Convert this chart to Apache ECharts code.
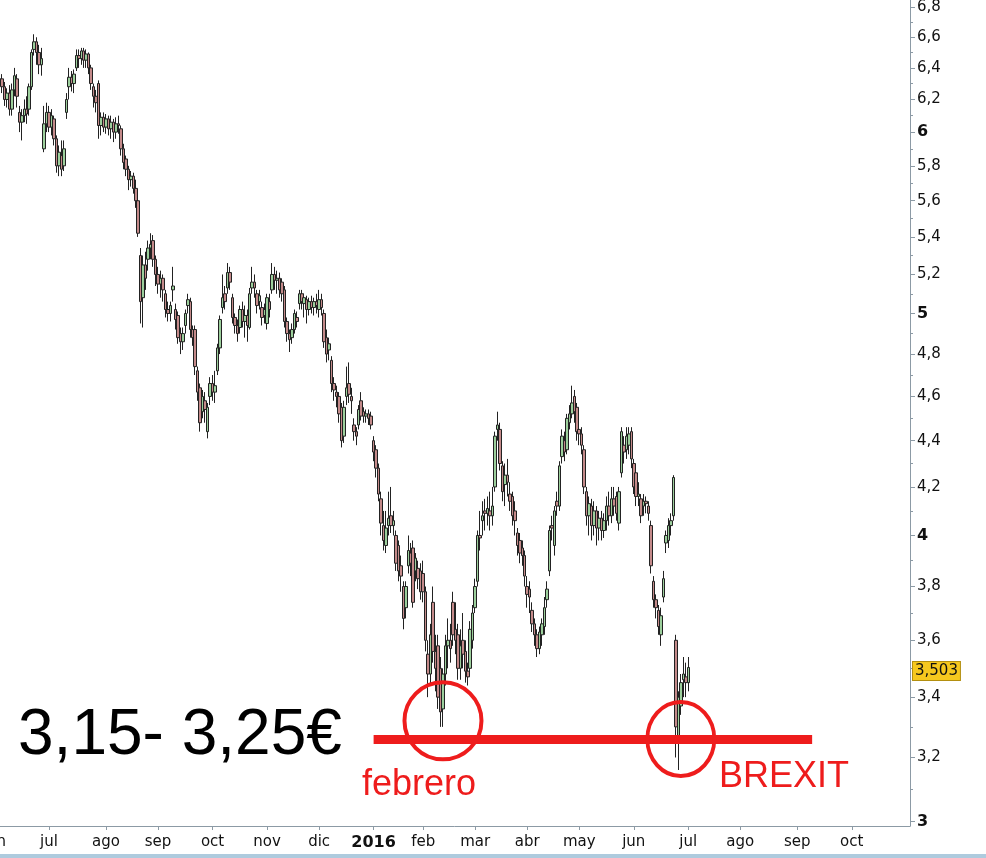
<!DOCTYPE html>
<html>
<head>
<meta charset="utf-8">
<script src="https://cdn.jsdelivr.net/npm/echarts@6/dist/echarts.min.js"></script>
<style>
html,body{margin:0;padding:0;background:#fff;}
#chart{width:986px;height:858px;}
</style>
</head>
<body>
<div id="chart"></div>
<script>
// ---- data (daily candles, first trading day 2015-06-01) ----
const startDate = '2015-06-01';
const endDate = '2016-11-03';
const holidays = ['2015-12-25', '2016-01-01', '2016-03-25', '2016-03-28'];
const monthLabels = ['jun','jul','ago','sep','oct','nov','dic','2016','feb','mar','abr','may','jun','jul','ago','sep','oct'];
const yLabelValues = [3,3.2,3.4,3.6,3.8,4,4.2,4.4,4.6,4.8,5,5.2,5.4,5.6,5.8,6,6.2,6.4,6.6,6.8];
const yMinorValues = [3.1,3.3,3.5,3.7,3.9,4.1,4.3,4.5,4.7,4.9,5.1,5.3,5.5,5.7,5.9,6.1,6.3,6.5,6.7];
const lastPrice = 3.503;

const opens = [
6.40,6.35, 6.30,6.33,6.28,6.20,6.24,6.14,6.26,6.33,6.12,6.06,6.10,6.14,6.14,6.28,6.52,6.57,6.50,6.42,5.90,6.05,
6.12,6.03,6.08,5.96,5.80,5.86,5.80,6.12,6.28,6.34,6.30,6.40,6.48,6.46,6.51,6.45,6.49,6.40,6.28,6.22,6.30,6.04,6.09,
6.03,6.08,6.02,6.06,6.00,6.05,6.02,5.90,5.84,5.78,5.72,5.74,5.67,5.60,5.30,5.08,5.25,5.28,5.34,5.38,5.28,
5.20,5.15,5.18,5.10,5.02,5.00,5.12,5.02,4.99,4.90,4.86,4.94,5.04,5.06,4.92,4.92,4.72,4.64,4.53,4.58,4.44,4.60,
4.66,4.62,4.72,4.83,5.03,5.10,5.13,5.21,5.08,4.98,4.94,4.93,5.02,4.96,4.99,4.93,5.13,5.16,5.10,5.06,5.03,4.99,
4.95,5.06,5.12,5.20,5.17,5.18,5.16,5.12,4.96,4.90,4.88,4.92,4.98,5.05,5.10,5.05,5.07,5.02,5.06,5.03,5.06,
5.02,5.07,5.00,4.88,4.82,4.77,4.66,4.62,4.60,4.55,4.42,4.60,4.66,4.60,4.47,4.44,4.47,4.58,4.53,4.51,4.52,4.51,
4.40,4.36,4.28,4.15,4.04,3.96,4.04,4.08,4.04,4.00,3.96,3.88,3.80,3.72,3.88,3.93,3.95,3.86,3.87,3.86,
3.85,3.78,3.55,3.48,3.74,3.56,3.58,3.50,3.36,3.48,3.58,3.60,3.74,3.64,3.62,3.50,3.60,3.56,3.49,3.50,3.60,
3.72,3.82,4.00,4.06,4.10,4.09,4.10,4.08,4.20,4.45,4.45,4.29,4.21,4.25,4.17,4.16,4.10,4.01,3.98,3.95,3.92,
3.80,3.79,3.71,3.66,3.62,3.57,3.62,3.65,3.75,3.86,4.04,3.96,4.14,4.12,4.33,4.40,4.36,4.48,4.52,4.60,4.55,
4.45,4.43,4.36,4.18,4.08,4.12,4.04,4.10,4.03,4.07,4.02,4.06,4.12,4.08,4.15,4.16,4.05,4.26,4.38,4.36,4.38,4.44,
4.30,4.26,4.16,4.15,4.12,4.14,4.12,4.04,3.82,3.75,3.71,3.62,3.76,3.97,3.98,4.04,4.08,3.60,3.26,3.37,3.46,3.47,
3.45];
const closes = [
6.35,6.38, 6.33,6.28,6.20,6.24,6.14,6.26,6.35,6.22,6.06,6.10,6.14,6.11,6.28,6.50,6.57,6.50,6.42,6.46,6.05,6.12,
6.03,6.10,5.96,5.80,5.88,5.78,5.90,6.20,6.34,6.30,6.36,6.48,6.46,6.51,6.45,6.49,6.40,6.30,6.22,6.18,6.04,6.09,6.03,
6.08,6.02,6.06,6.00,6.05,6.04,5.90,5.82,5.78,5.72,5.74,5.67,5.60,5.42,5.06,5.25,5.18,5.34,5.36,5.28,5.20,
5.15,5.18,5.12,5.02,5.00,5.04,5.14,4.97,4.88,4.86,4.90,5.00,5.07,4.92,4.88,4.74,4.62,4.48,4.60,4.54,4.55,4.66,
4.62,4.65,4.83,4.97,5.08,5.06,5.21,5.16,4.98,4.94,4.90,5.02,4.96,4.99,4.94,5.10,5.16,5.13,5.04,5.09,4.98,5.02,
5.08,5.02,5.20,5.17,5.18,5.12,5.10,4.96,4.90,4.87,4.92,5.00,4.96,5.10,5.06,5.08,5.02,5.06,5.03,5.06,5.04,
5.07,5.03,4.86,4.80,4.85,4.66,4.63,4.60,4.52,4.40,4.55,4.64,4.61,4.58,4.44,4.42,4.54,4.51,4.51,4.52,4.50,4.47,
4.35,4.28,4.17,4.05,3.98,4.03,4.07,4.04,4.06,3.89,3.86,3.84,3.68,3.80,3.94,3.89,3.74,3.91,3.83,3.78,
3.78,3.60,3.48,3.62,3.56,3.50,3.40,3.35,3.48,3.58,3.60,3.57,3.62,3.60,3.50,3.58,3.55,3.49,3.47,3.64,3.70,
3.80,4.00,3.99,4.08,4.09,4.11,4.08,4.12,4.42,4.47,4.30,4.18,4.25,4.22,4.14,4.08,4.06,3.96,3.93,3.92,3.84,
3.77,3.76,3.66,3.62,3.57,3.63,3.66,3.72,3.79,4.02,4.03,4.10,4.12,4.29,4.42,4.35,4.50,4.52,4.57,4.53,4.44,
4.43,4.38,4.20,4.08,4.13,4.04,4.10,4.03,4.07,4.02,4.06,4.12,4.08,4.15,4.12,4.09,4.18,4.44,4.35,4.42,4.43,4.32,
4.20,4.16,4.17,4.08,4.14,4.13,4.09,3.88,3.75,3.72,3.65,3.69,3.83,4.00,4.04,4.06,4.24,3.30,3.40,3.45,3.48,3.45,
3.503];
const lows = [
6.30,6.30, 6.26,6.24,6.16,6.15,6.10,6.10,6.22,6.15,6.00,5.95,6.06,6.05,6.10,6.26,6.48,6.42,6.36,6.35,5.88,6.00,
6.00,5.98,5.92,5.76,5.74,5.74,5.77,6.08,6.20,6.25,6.24,6.38,6.40,6.42,6.40,6.40,6.36,6.26,6.15,6.12,5.96,5.98,6.00,
5.99,5.98,5.96,5.94,5.96,5.99,5.86,5.78,5.74,5.66,5.68,5.64,5.56,5.40,4.95,4.93,5.12,5.22,5.28,5.24,5.14,
5.10,5.08,5.06,4.98,4.96,4.96,5.06,4.92,4.85,4.80,4.82,4.90,5.00,4.88,4.84,4.70,4.58,4.44,4.50,4.48,4.41,4.56,
4.58,4.57,4.70,4.80,5.00,5.02,5.10,5.12,4.95,4.90,4.86,4.90,4.93,4.88,4.86,4.92,5.10,5.08,5.00,5.02,4.94,4.95,
4.92,4.98,5.10,5.12,5.10,5.08,5.06,4.93,4.86,4.81,4.85,4.90,4.93,5.02,5.02,4.98,4.95,4.99,5.00,4.99,5.00,
4.98,4.99,4.83,4.76,4.77,4.62,4.58,4.55,4.48,4.37,4.39,4.56,4.57,4.52,4.40,4.38,4.45,4.49,4.48,4.48,4.47,4.45,
4.31,4.24,4.14,4.00,3.94,3.93,4.00,4.01,4.00,3.86,3.82,3.78,3.64,3.68,3.85,3.84,3.72,3.82,3.79,3.75,
3.74,3.56,3.40,3.44,3.52,3.42,3.36,3.30,3.30,3.44,3.50,3.52,3.58,3.55,3.46,3.46,3.50,3.45,3.44,3.48,3.57,
3.70,3.80,3.94,4.00,4.02,4.04,4.02,4.04,4.18,4.40,4.27,4.14,4.12,4.16,4.10,4.04,4.00,3.92,3.89,3.88,3.80,
3.72,3.70,3.63,3.58,3.54,3.55,3.58,3.62,3.72,3.84,3.98,3.92,4.08,4.10,4.30,4.31,4.34,4.45,4.50,4.48,4.40,
4.38,4.34,4.17,4.04,4.00,3.98,4.00,3.96,3.98,3.98,3.99,4.02,4.04,4.05,4.08,4.06,4.02,4.24,4.30,4.32,4.34,4.28,
4.17,4.12,4.12,4.05,4.08,4.09,4.06,3.85,3.72,3.68,3.62,3.58,3.74,3.93,3.95,4.00,4.06,3.20,3.16,3.34,3.40,3.40,
3.42];
const highs = [
6.45,6.44, 6.42,6.36,6.31,6.27,6.29,6.30,6.40,6.36,6.16,6.14,6.20,6.22,6.30,6.52,6.62,6.60,6.55,6.53,6.16,6.18,
6.16,6.14,6.10,5.98,5.92,5.95,5.95,6.24,6.40,6.38,6.39,6.52,6.52,6.53,6.53,6.52,6.50,6.42,6.30,6.26,6.32,6.12,6.12,
6.11,6.10,6.10,6.08,6.09,6.10,6.04,5.93,5.86,5.80,5.77,5.76,5.72,5.62,5.34,5.30,5.32,5.38,5.42,5.41,5.30,
5.24,5.22,5.20,5.12,5.06,5.06,5.24,5.05,5.01,4.93,4.93,5.02,5.10,5.08,4.94,4.94,4.74,4.66,4.63,4.62,4.57,4.69,
4.70,4.72,4.85,4.99,5.20,5.14,5.26,5.24,5.10,5.00,4.97,5.04,5.06,5.04,5.02,5.13,5.24,5.20,5.12,5.12,5.06,5.05,
5.10,5.10,5.26,5.24,5.22,5.21,5.18,5.14,4.98,4.92,4.95,5.02,5.01,5.12,5.12,5.10,5.09,5.08,5.09,5.08,5.10,
5.12,5.10,5.02,4.92,4.88,4.79,4.69,4.65,4.62,4.57,4.58,4.74,4.76,4.64,4.50,4.46,4.56,4.62,4.55,4.54,4.54,4.53,
4.42,4.38,4.30,4.18,4.10,4.10,4.18,4.20,4.10,4.02,3.98,3.92,3.82,3.82,4.00,3.97,3.98,3.93,3.90,3.89,
3.90,3.80,3.60,3.66,3.80,3.62,3.62,3.54,3.50,3.62,3.68,3.66,3.78,3.74,3.66,3.64,3.70,3.60,3.52,3.67,3.73,
3.83,4.02,4.10,4.14,4.15,4.16,4.18,4.20,4.44,4.53,4.48,4.31,4.30,4.32,4.22,4.18,4.14,4.03,4.01,3.98,3.94,
3.84,3.82,3.74,3.68,3.64,3.65,3.68,3.76,3.82,4.04,4.08,4.12,4.18,4.31,4.45,4.44,4.52,4.56,4.65,4.63,4.57,
4.48,4.46,4.38,4.20,4.16,4.15,4.14,4.12,4.10,4.10,4.09,4.16,4.18,4.20,4.20,4.18,4.20,4.46,4.42,4.46,4.46,4.46,
4.32,4.28,4.22,4.17,4.17,4.16,4.14,4.06,3.84,3.77,3.73,3.72,3.86,4.02,4.07,4.09,4.25,3.62,3.42,3.48,3.54,3.52,
3.54];

// annotations
const supportLevel = 3.26;
const supportFrom = '2016-01-04';
const supportTo = '2016-09-09';
const febCircle = {date: '2016-02-11', price: 3.32};
const brexitCircle = {date: '2016-06-28', price: 3.26};

// ---- build categories (trading days) ----
function pad(n){return n<10?'0'+n:''+n;}
const dates = [];
(function(){
  const d = new Date(startDate + 'T12:00:00Z');
  const e = new Date(endDate + 'T12:00:00Z');
  while (d <= e) {
    const wd = d.getUTCDay();
    const s = d.getUTCFullYear()+'-'+pad(d.getUTCMonth()+1)+'-'+pad(d.getUTCDate());
    if (wd !== 0 && wd !== 6 && holidays.indexOf(s) < 0) dates.push(s);
    d.setUTCDate(d.getUTCDate()+1);
  }
})();
const monthStart = {};
let mCount = 0;
dates.forEach((s, i) => {
  if (i === 0 || s.slice(0,7) !== dates[i-1].slice(0,7)) {
    if (mCount < monthLabels.length) monthStart[i] = monthLabels[mCount];
    mCount++;
  }
});

const L = Math.log;
const candles = opens.map((o, i) => [L(o), L(closes[i]), L(lows[i]), L(highs[i])]);

const FONT = 'DejaVu Sans';
const RED = '#ee1c1c';
const chart = echarts.init(document.getElementById('chart'), null, {renderer: 'canvas'});
const yMin = L(2.987), yMax = L(6.852);

function fmtY(v) {
  const n = Math.round(Math.exp(v) * 10) / 10;
  if (Math.abs(n - Math.round(n)) < 1e-9) return '{b|' + Math.round(n) + '}';
  return n.toFixed(1).replace('.', ',');
}

chart.setOption({
  animation: false,
  backgroundColor: '#ffffff',
  grid: {left: -6.7, right: 76, top: 0, bottom: 32, containLabel: false, outerBoundsMode: 'none'},
  xAxis: {
    type: 'category',
    data: dates,
    boundaryGap: true,
    axisLine: {show: true, lineStyle: {color: '#8c9aa5', width: 1}},
    axisTick: {show: true, alignWithLabel: true, length: 4, lineStyle: {color: '#8c9aa5'},
      interval: (i) => monthStart[i] !== undefined},
    axisLabel: {
      show: true, margin: 9, color: '#111', fontFamily: FONT, fontSize: 15,
      interval: (i) => monthStart[i] !== undefined,
      formatter: (v, i) => {
        const t = monthStart[i];
        if (t === undefined) return '';
        return /^\d+$/.test(t) ? '{b|' + t + '}' : t;
      },
      rich: {b: {fontWeight: 'bold', fontFamily: FONT, fontSize: 16, color: '#111'}}
    },
    splitLine: {show: false}
  },
  yAxis: [{
    type: 'value',
    position: 'right',
    min: yMin, max: yMax,
    axisLine: {show: true, lineStyle: {color: '#8c9aa5', width: 1}},
    axisTick: {show: true, inside: false, length: 5, lineStyle: {color: '#8c9aa5'},
      customValues: yLabelValues.map(L)},
    axisLabel: {show: true, inside: false, margin: 7, color: '#111', fontFamily: FONT, fontSize: 15,
      customValues: yLabelValues.map(L), formatter: fmtY,
      rich: {b: {fontWeight: 'bold', fontFamily: FONT, fontSize: 16, color: '#111'}}},
    splitLine: {show: false}
  }, {
    type: 'value',
    position: 'right',
    min: yMin, max: yMax,
    axisLine: {show: false},
    axisTick: {show: true, length: 3, lineStyle: {color: '#8c9aa5'}, customValues: yMinorValues.map(L)},
    axisLabel: {show: false},
    splitLine: {show: false}
  }],
  series: [{
    type: 'candlestick',
    data: candles,
    barWidth: 3,
    z: 3,
    itemStyle: {
      color: '#9ccf9c', color0: '#c48a8a',
      borderColor: '#222', borderColor0: '#222', borderWidth: 1
    },
    markLine: {
      silent: true,
      symbol: ['none', 'none'],
      animation: false,
      data: [
        [
          {coord: [supportFrom, L(supportLevel)], lineStyle: {color: RED, width: 9, type: 'solid', cap: 'butt'}, label: {show: false}},
          {coord: [supportTo, L(supportLevel)]}
        ],
        {
          yAxis: L(lastPrice),
          lineStyle: {color: 'rgba(0,0,0,0)', width: 1, type: 'solid'},
          label: {
            show: true, position: 'end', distance: 3,
            formatter: () => String(lastPrice).replace('.', ','),
            color: '#111', fontFamily: FONT, fontSize: 15,
            backgroundColor: '#f6c81e', borderColor: '#b38f10', borderWidth: 1,
            padding: [2, 2, 1, 2]
          }
        }
      ]
    },
    markPoint: {
      silent: true,
      symbol: 'circle',
      label: {show: false},
      itemStyle: {color: 'rgba(0,0,0,0)', borderColor: RED, borderWidth: 4},
      data: [
        {coord: [febCircle.date, L(febCircle.price)], symbolSize: [77, 77]},
        {coord: [brexitCircle.date, L(brexitCircle.price)], symbolSize: [67, 74]}
      ]
    }
  }],
  graphic: [
    {type: 'text', left: 18, top: 704, z: 10,
      style: {text: '3,15- 3,25€', fill: '#000', font: '64px "Liberation Sans", Arial, sans-serif'}},
    {type: 'text', left: 362, top: 767, z: 10,
      style: {text: 'febrero', fill: RED, font: '36px "Liberation Sans", Arial, sans-serif'}},
    {type: 'text', left: 719, top: 759, z: 10,
      style: {text: 'BREXIT', fill: RED, font: '36px "Liberation Sans", Arial, sans-serif'}},
    {type: 'rect', left: 0, top: 854, z: 10, shape: {width: 986, height: 4}, style: {fill: '#aecbde'}}
  ]
});
</script>
</body>
</html>
